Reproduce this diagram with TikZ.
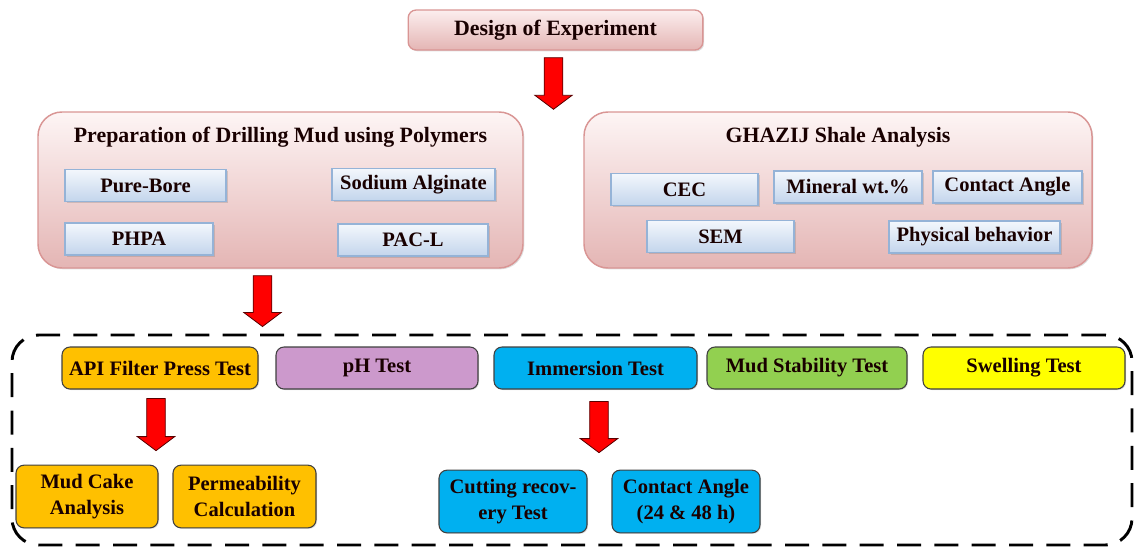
\documentclass[tikz,border=0pt]{standalone}
\usepackage{fontspec}
\setmainfont{Liberation Serif}
\usetikzlibrary{positioning,calc,shadows}

\definecolor{pinktop}{HTML}{FCEEEE}
\definecolor{pinkbot}{HTML}{E4B5B4}
\definecolor{pinkline}{HTML}{D99594}
\definecolor{bluetop}{HTML}{F3F7FC}
\definecolor{bluebot}{HTML}{C3D5EC}
\definecolor{blueline}{HTML}{95B3D7}
\definecolor{apiorange}{HTML}{FFC000}
\definecolor{phpurple}{HTML}{CC99CC}
\definecolor{immcyan}{HTML}{00B0F0}
\definecolor{mudgreen}{HTML}{92D050}
\definecolor{swellyellow}{HTML}{FFFF00}
\definecolor{arrowline}{HTML}{5A0000}

% block arrow from #1 (top of shaft) down to #2 (tip)
\newcommand{\redarrow}[2]{%
  \draw[redarrow] let \p1=(#1), \p2=(#2) in
    (\x1-7pt,\y1) -- (\x1+7pt,\y1) -- (\x1+7pt,\y2+10.5pt) -- (\x1+14pt,\y2+10.5pt)
    -- (\x1,\y2) -- (\x1-14pt,\y2+10.5pt) -- (\x1-7pt,\y2+10.5pt) -- cycle;}

\begin{document}
\begin{tikzpicture}[x=0.75pt,y=-0.75pt,
    txt/.style={font=\fontsize{15.4}{20}\selectfont\bfseries, text=black!90!red, align=center, inner sep=0pt},
    headtxt/.style={txt, font=\fontsize{16.4}{20}\selectfont\bfseries},
    titlebox/.style={headtxt, draw=pinkline, line width=1pt, rounded corners=6pt,
        top color=pinktop, bottom color=pinkbot, minimum width=221pt, minimum height=30pt,
        drop shadow={shadow xshift=1pt, shadow yshift=-1pt, opacity=0.25}},
    groupbox/.style={draw=pinkline, line width=1.1pt, rounded corners=18pt,
        top color=pinktop!60!white, bottom color=pinkbot, minimum height=117pt,
        drop shadow={shadow xshift=1pt, shadow yshift=-1pt, opacity=0.25}},
    itembox/.style={txt, draw=blueline, line width=0.8pt, top color=bluetop, bottom color=bluebot,
        minimum height=24pt, drop shadow={shadow xshift=1.2pt, shadow yshift=-1.2pt, opacity=0.3}},
    testbox/.style={txt, draw=black!75, line width=0.8pt, rounded corners=6pt, minimum height=31.5pt,
        drop shadow={shadow xshift=0.8pt, shadow yshift=-0.8pt, opacity=0.25}},
    subbox/.style={testbox, minimum height=47pt},
    redarrow/.style={fill=red, draw=arrowline, line width=0.6pt, line join=miter},
    dashbox/.style={draw=black, line width=2.2pt, dash pattern=on 18pt off 10pt, rounded corners=20pt,
        minimum width=840pt, minimum height=157.5pt}]

\useasboundingbox (0,0) rectangle (1137,547);

% top
\node[titlebox] (doe) at (555.5,30) {Design of Experiment};

% the two groups
\node[groupbox, minimum width=363.75pt] (prep) at (280.5,190) {};
\node[headtxt] (preptitle) at (280.5,137) {Preparation of Drilling Mud using Polymers};
\node[itembox, minimum width=120.75pt] (pure) at (145.5,185.5) {Pure-Bore};
\node[itembox, minimum width=122.25pt] (alg) at (413.5,184.5) {Sodium Alginate};
\node[itembox, minimum width=111pt] (phpa) at (139,239) {PHPA};
\node[itembox, minimum width=112.5pt] (pacl) at (413,240) {PAC-L};

\node[groupbox, minimum width=381pt] (shale) at (838,190) {};
\node[headtxt] (shaletitle) at (838,137) {GHAZIJ Shale Analysis};
\node[itembox, minimum width=110.25pt] (cec) at (684.5,189.5) {CEC};
\node[itembox, minimum width=111pt] (mineral) at (848,187) {Mineral wt.\%};
\node[itembox, minimum width=111.75pt] (angle) at (1007.5,187) {Contact Angle};
\node[itembox, minimum width=110.25pt] (sem) at (720.5,236.5) {SEM};
\node[itembox, minimum width=128.25pt] (phys) at (974.5,237) {Physical behavior};

% tests
\node[dashbox] (tests) at (572,440) {};
\node[testbox, fill=apiorange, minimum width=147pt] (api) at (160,368) {API Filter Press Test};
\node[testbox, fill=phpurple, minimum width=151.5pt] (ph) at (377,368) {pH Test};
\node[testbox, fill=immcyan, minimum width=152.25pt] (imm) at (595.5,368) {Immersion Test};
\node[testbox, fill=mudgreen, minimum width=150pt] (stab) at (807,368) {Mud Stability Test};
\node[testbox, fill=swellyellow, minimum width=151.5pt] (swell) at (1024,368) {Swelling Test};

\node[subbox, fill=apiorange, minimum width=106.5pt] (cake) at (87,496.5) {Mud Cake\\Analysis};
\node[subbox, fill=apiorange, minimum width=107.25pt] (perm) at (244.5,496.5) {Permeability\\Calculation};
\node[subbox, fill=immcyan, minimum width=111pt] (cut) at (513,501.5) {Cutting recov-\\ery Test};
\node[subbox, fill=immcyan, minimum width=111pt] (ca) at (686,501.5) {Contact Angle\\(24 \& 48 h)};

% arrows
\coordinate (arr1a) at ($(doe.south)+(-2,7)$);
\coordinate (arr1b) at ($(arr1a |- prep.north)+(0,-2)$);
\coordinate (arr2a) at ($(prep.south)+(-18,7)$);
\coordinate (arr2b) at ($(arr2a |- tests.north)+(0,-7)$);
\coordinate (arr3a) at ($(api.south)+(-4,9)$);
\coordinate (arr3b) at ($(arr3a |- cake.north)+(0,-14)$);
\coordinate (arr4a) at ($(imm.south)+(3.5,12)$);
\coordinate (arr4b) at ($(arr4a |- cut.north)+(0,-17)$);
\redarrow{arr1a}{arr1b}
\redarrow{arr2a}{arr2b}
\redarrow{arr3a}{arr3b}
\redarrow{arr4a}{arr4b}
\end{tikzpicture}
\end{document}
